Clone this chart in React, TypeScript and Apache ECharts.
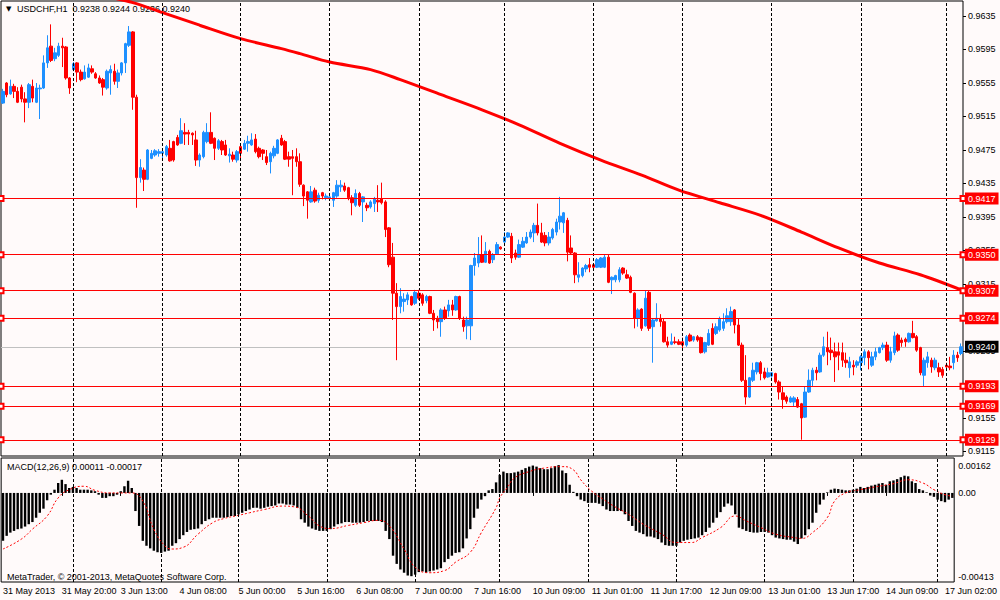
import React, { useEffect, useRef } from 'react';
import * as echarts from 'echarts';

const tickLabels = ['31 May 2013', '31 May 20:00', '3 Jun 13:00', '4 Jun 08:00', '5 Jun 00:00', '5 Jun 16:00', '6 Jun 08:00', '7 Jun 00:00', '7 Jun 16:00', '10 Jun 09:00', '11 Jun 01:00', '11 Jun 17:00', '12 Jun 09:00', '13 Jun 01:00', '13 Jun 17:00', '14 Jun 09:00', '17 Jun 02:00'];
const daySeparators = [19, 43, 64, 88, 112, 135, 159, 183, 207, 231, 254];
const priceTicks = [0.9635, 0.9595, 0.9555, 0.9515, 0.9475, 0.9435, 0.9395, 0.9355, 0.9315, 0.9275, 0.9235, 0.9195, 0.9155, 0.9115];
const macdTicks = [0.00162, 0, -0.00413];
const levels = [0.9417, 0.935, 0.9307, 0.9274, 0.9193, 0.9169, 0.9129];
const bid = 0.924;

// [open, close, low, high]
const candles: number[][] = [
[0.9531,0.9545,0.9530,0.9548],[0.9555,0.9541,0.9538,0.9556],[0.9542,0.9551,0.9541,0.9559],[0.9551,0.9545,0.9537,0.9554],[0.9545,0.9532,0.9531,0.9550],
[0.9550,0.9536,0.9532,0.9553],[0.9536,0.9532,0.9508,0.9544],[0.9532,0.9553,0.9525,0.9555],[0.9551,0.9537,0.9532,0.9559],[0.9532,0.9549,0.9531,0.9555],
[0.9548,0.9549,0.9512,0.9553],[0.9549,0.9579,0.9548,0.9588],[0.9579,0.9597,0.9573,0.9612],[0.9599,0.9582,0.9580,0.9625],[0.9584,0.9591,0.9581,0.9597],
[0.9588,0.9599,0.9586,0.9603],[0.9599,0.9597,0.9574,0.9609],[0.9598,0.9561,0.9559,0.9599],[0.9561,0.9549,0.9542,0.9562],[0.9571,0.9578,0.9569,0.9580],
[0.9579,0.9568,0.9556,0.9580],[0.9568,0.9559,0.9557,0.9571],[0.9560,0.9568,0.9559,0.9576],[0.9562,0.9573,0.9561,0.9578],[0.9572,0.9568,0.9566,0.9576],
[0.9566,0.9561,0.9560,0.9568],[0.9561,0.9555,0.9554,0.9564],[0.9559,0.9550,0.9540,0.9561],[0.9549,0.9569,0.9547,0.9571],[0.9567,0.9571,0.9541,0.9576],
[0.9569,0.9557,0.9553,0.9578],[0.9557,0.9567,0.9549,0.9571],[0.9567,0.9579,0.9564,0.9580],[0.9579,0.9602,0.9567,0.9603],[0.9600,0.9616,0.9598,0.9623],
[0.9616,0.9538,0.9523,0.9617],[0.9538,0.9442,0.9406,0.9541],[0.9442,0.9454,0.9436,0.9464],[0.9451,0.9440,0.9426,0.9454],[0.9440,0.9475,0.9439,0.9476],
[0.9465,0.9471,0.9464,0.9475],[0.9469,0.9474,0.9467,0.9476],[0.9471,0.9473,0.9467,0.9476],[0.9471,0.9473,0.9465,0.9477],[0.9469,0.9479,0.9467,0.9481],
[0.9477,0.9462,0.9461,0.9487],[0.9485,0.9463,0.9461,0.9486],[0.9490,0.9481,0.9480,0.9493],[0.9483,0.9498,0.9482,0.9513],[0.9496,0.9494,0.9481,0.9507],
[0.9496,0.9494,0.9481,0.9499],[0.9495,0.9493,0.9481,0.9496],[0.9487,0.9463,0.9456,0.9498],[0.9463,0.9469,0.9455,0.9471],[0.9467,0.9496,0.9465,0.9498],
[0.9485,0.9496,0.9483,0.9507],[0.9496,0.9483,0.9482,0.9520],[0.9489,0.9477,0.9463,0.9490],[0.9477,0.9486,0.9475,0.9488],[0.9485,0.9475,0.9469,0.9487],
[0.9481,0.9469,0.9468,0.9487],[0.9468,0.9470,0.9460,0.9477],[0.9469,0.9464,0.9461,0.9473],[0.9463,0.9473,0.9460,0.9475],[0.9479,0.9471,0.9465,0.9481],
[0.9476,0.9483,0.9475,0.9487],[0.9483,0.9485,0.9473,0.9492],[0.9481,0.9487,0.9480,0.9495],[0.9488,0.9473,0.9471,0.9494],[0.9477,0.9467,0.9465,0.9479],
[0.9475,0.9471,0.9463,0.9476],[0.9467,0.9460,0.9457,0.9475],[0.9461,0.9471,0.9447,0.9473],[0.9468,0.9477,0.9465,0.9480],[0.9471,0.9487,0.9470,0.9488],
[0.9489,0.9481,0.9480,0.9493],[0.9485,0.9464,0.9463,0.9487],[0.9467,0.9464,0.9455,0.9473],[0.9467,0.9465,0.9421,0.9475],[0.9467,0.9461,0.9455,0.9477],
[0.9461,0.9434,0.9431,0.9471],[0.9433,0.9420,0.9408,0.9434],[0.9425,0.9415,0.9393,0.9426],[0.9413,0.9425,0.9412,0.9432],[0.9427,0.9414,0.9412,0.9430],
[0.9415,0.9421,0.9412,0.9424],[0.9424,0.9420,0.9416,0.9425],[0.9418,0.9420,0.9415,0.9423],[0.9417,0.9419,0.9415,0.9421],[0.9415,0.9424,0.9407,0.9425],
[0.9420,0.9433,0.9418,0.9439],[0.9431,0.9433,0.9425,0.9439],[0.9432,0.9427,0.9425,0.9436],[0.9430,0.9418,0.9415,0.9431],[0.9418,0.9412,0.9397,0.9421],
[0.9409,0.9423,0.9407,0.9428],[0.9423,0.9409,0.9407,0.9425],[0.9413,0.9419,0.9389,0.9420],[0.9409,0.9406,0.9402,0.9412],[0.9407,0.9413,0.9405,0.9415],
[0.9411,0.9417,0.9401,0.9419],[0.9415,0.9413,0.9401,0.9433],[0.9417,0.9412,0.9410,0.9436],[0.9413,0.9380,0.9371,0.9415],[0.9382,0.9338,0.9335,0.9383],
[0.9347,0.9304,0.9272,0.9364],[0.9304,0.9288,0.9224,0.9316],[0.9288,0.9300,0.9280,0.9310],[0.9294,0.9297,0.9282,0.9304],[0.9296,0.9302,0.9290,0.9305],
[0.9300,0.9290,0.9289,0.9301],[0.9292,0.9305,0.9290,0.9308],[0.9304,0.9298,0.9296,0.9308],[0.9302,0.9292,0.9289,0.9304],[0.9295,0.9300,0.9292,0.9302],
[0.9300,0.9280,0.9279,0.9301],[0.9280,0.9272,0.9259,0.9284],[0.9274,0.9270,0.9262,0.9277],[0.9270,0.9284,0.9252,0.9286],[0.9284,0.9274,0.9272,0.9288],
[0.9283,0.9290,0.9276,0.9296],[0.9290,0.9284,0.9277,0.9296],[0.9284,0.9300,0.9283,0.9301],[0.9300,0.9274,0.9272,0.9301],[0.9272,0.9264,0.9258,0.9276],
[0.9265,0.9272,0.9249,0.9276],[0.9265,0.9337,0.9248,0.9338],[0.9337,0.9346,0.9325,0.9352],[0.9340,0.9350,0.9335,0.9371],[0.9350,0.9341,0.9340,0.9373],
[0.9341,0.9354,0.9340,0.9365],[0.9354,0.9340,0.9339,0.9356],[0.9344,0.9350,0.9340,0.9352],[0.9351,0.9362,0.9350,0.9365],[0.9359,0.9357,0.9356,0.9360],
[0.9365,0.9371,0.9364,0.9377],[0.9371,0.9376,0.9370,0.9377],[0.9372,0.9346,0.9340,0.9376],[0.9352,0.9347,0.9344,0.9356],[0.9347,0.9362,0.9346,0.9368],
[0.9359,0.9366,0.9358,0.9371],[0.9364,0.9371,0.9363,0.9377],[0.9371,0.9377,0.9369,0.9380],[0.9376,0.9385,0.9365,0.9388],[0.9385,0.9376,0.9373,0.9411],
[0.9376,0.9365,0.9364,0.9388],[0.9373,0.9364,0.9360,0.9377],[0.9364,0.9371,0.9361,0.9377],[0.9370,0.9380,0.9368,0.9382],[0.9377,0.9389,0.9373,0.9393],
[0.9389,0.9396,0.9380,0.9419],[0.9388,0.9400,0.9376,0.9401],[0.9391,0.9353,0.9342,0.9394],[0.9358,0.9352,0.9350,0.9373],[0.9352,0.9326,0.9316,0.9353],
[0.9323,0.9326,0.9317,0.9341],[0.9325,0.9334,0.9323,0.9335],[0.9333,0.9337,0.9329,0.9339],[0.9338,0.9335,0.9329,0.9346],[0.9338,0.9335,0.9332,0.9340],
[0.9335,0.9344,0.9334,0.9346],[0.9335,0.9346,0.9334,0.9347],[0.9335,0.9347,0.9334,0.9350],[0.9347,0.9317,0.9316,0.9350],[0.9320,0.9323,0.9303,0.9324],
[0.9320,0.9325,0.9317,0.9326],[0.9320,0.9332,0.9317,0.9335],[0.9334,0.9328,0.9326,0.9335],[0.9326,0.9322,0.9321,0.9332],[0.9323,0.9305,0.9304,0.9325],
[0.9304,0.9274,0.9262,0.9305],[0.9274,0.9284,0.9264,0.9286],[0.9285,0.9262,0.9259,0.9286],[0.9265,0.9298,0.9264,0.9307],[0.9305,0.9262,0.9259,0.9307],
[0.9264,0.9272,0.9221,0.9274],[0.9271,0.9274,0.9270,0.9292],[0.9274,0.9270,0.9264,0.9279],[0.9270,0.9246,0.9245,0.9274],[0.9246,0.9242,0.9239,0.9252],
[0.9243,0.9246,0.9242,0.9256],[0.9246,0.9245,0.9243,0.9252],[0.9246,0.9243,0.9242,0.9249],[0.9246,0.9242,0.9237,0.9251],[0.9242,0.9252,0.9240,0.9254],
[0.9254,0.9247,0.9246,0.9256],[0.9248,0.9252,0.9246,0.9253],[0.9252,0.9248,0.9246,0.9254],[0.9251,0.9233,0.9232,0.9252],[0.9234,0.9245,0.9232,0.9246],
[0.9242,0.9256,0.9241,0.9261],[0.9262,0.9243,0.9242,0.9268],[0.9256,0.9264,0.9254,0.9268],[0.9260,0.9273,0.9258,0.9276],[0.9262,0.9270,0.9259,0.9280],
[0.9270,0.9277,0.9268,0.9286],[0.9270,0.9282,0.9265,0.9288],[0.9284,0.9266,0.9256,0.9285],[0.9266,0.9242,0.9241,0.9274],[0.9242,0.9200,0.9198,0.9245],
[0.9200,0.9180,0.9171,0.9230],[0.9180,0.9203,0.9179,0.9204],[0.9200,0.9212,0.9198,0.9221],[0.9210,0.9221,0.9207,0.9222],[0.9221,0.9208,0.9200,0.9223],
[0.9210,0.9203,0.9201,0.9215],[0.9204,0.9209,0.9203,0.9215],[0.9205,0.9209,0.9203,0.9210],[0.9208,0.9198,0.9196,0.9209],[0.9198,0.9186,0.9177,0.9200],
[0.9185,0.9177,0.9166,0.9192],[0.9180,0.9175,0.9172,0.9182],[0.9174,0.9179,0.9173,0.9181],[0.9174,0.9179,0.9169,0.9181],[0.9177,0.9168,0.9167,0.9180],
[0.9172,0.9155,0.9129,0.9173],[0.9156,0.9186,0.9155,0.9192],[0.9186,0.9200,0.9185,0.9213],[0.9200,0.9212,0.9192,0.9215],[0.9212,0.9209,0.9200,0.9216],
[0.9210,0.9230,0.9209,0.9233],[0.9230,0.9240,0.9228,0.9252],[0.9239,0.9234,0.9218,0.9258],[0.9236,0.9233,0.9224,0.9251],[0.9234,0.9228,0.9198,0.9245],
[0.9234,0.9230,0.9212,0.9245],[0.9233,0.9224,0.9216,0.9245],[0.9224,0.9221,0.9215,0.9233],[0.9215,0.9222,0.9203,0.9228],[0.9218,0.9216,0.9206,0.9224],
[0.9218,0.9222,0.9215,0.9224],[0.9221,0.9228,0.9212,0.9230],[0.9227,0.9234,0.9218,0.9237],[0.9234,0.9227,0.9213,0.9236],[0.9218,0.9228,0.9216,0.9234],
[0.9228,0.9234,0.9224,0.9239],[0.9233,0.9239,0.9232,0.9240],[0.9239,0.9242,0.9236,0.9245],[0.9242,0.9224,0.9222,0.9246],[0.9224,0.9234,0.9221,0.9240],
[0.9233,0.9253,0.9230,0.9258],[0.9254,0.9236,0.9234,0.9256],[0.9248,0.9245,0.9240,0.9251],[0.9249,0.9246,0.9240,0.9251],[0.9246,0.9256,0.9245,0.9257],
[0.9256,0.9251,0.9250,0.9271],[0.9252,0.9236,0.9234,0.9254],[0.9239,0.9209,0.9206,0.9240],[0.9206,0.9224,0.9192,0.9227],[0.9221,0.9228,0.9215,0.9234],
[0.9224,0.9216,0.9209,0.9227],[0.9215,0.9224,0.9212,0.9227],[0.9215,0.9210,0.9204,0.9221],[0.9213,0.9206,0.9203,0.9216],[0.9218,0.9216,0.9212,0.9221],
[0.9217,0.9215,0.9212,0.9228],[0.9221,0.9230,0.9213,0.9236],[0.9230,0.9227,0.9222,0.9234],[0.9232,0.9240,0.9230,0.9244]
];

// moving average line: [bar index, price]
const maPoints: number[][] = [
[26,0.9660],[35,0.9651],[43,0.9639],[53,0.9624],[64,0.9608],[75,0.9596],[80,0.9590],[88,0.9580],[99,0.9571],[107,0.9559],
[118,0.9541],[129,0.9523],[139,0.9505],[150,0.9483],[161,0.9463],[172,0.9445],[182,0.9427],[193,0.9412],[204,0.9397],[215,0.9377],
[225,0.9358],[236,0.9340],[247,0.9326],[258,0.9308]
];

const macdMain: number[] = [
-0.00222,-0.00199,-0.00184,-0.00176,-0.00168,-0.00165,-0.00156,-0.00145,-0.00135,-0.00115,
-0.00092,-0.00073,-0.00034,-0.00008,0.00015,0.00046,0.00061,0.00041,0.00023,0.00028,
0.00023,0.00015,0.00015,0.00015,0.00012,0.00008,-0.00008,-0.00023,-0.00023,-0.00015,
-0.00015,-0.00008,0.00008,0.00031,0.00057,0.00023,-0.00084,-0.00153,-0.00222,-0.00245,
-0.00257,-0.00268,-0.00275,-0.00278,-0.00272,-0.00268,-0.00245,-0.00233,-0.00214,-0.00196,
-0.00181,-0.00171,-0.00168,-0.00165,-0.00145,-0.00130,-0.00122,-0.00115,-0.00115,-0.00115,
-0.00115,-0.00112,-0.00107,-0.00107,-0.00099,-0.00092,-0.00084,-0.00077,-0.00069,-0.00069,
-0.00073,-0.00069,-0.00064,-0.00061,-0.00058,-0.00049,-0.00049,-0.00054,-0.00054,-0.00058,
-0.00069,-0.00122,-0.00138,-0.00156,-0.00165,-0.00171,-0.00176,-0.00176,-0.00176,-0.00168,
-0.00156,-0.00145,-0.00141,-0.00135,-0.00135,-0.00138,-0.00138,-0.00138,-0.00135,-0.00130,
-0.00130,-0.00130,-0.00130,-0.00135,-0.00176,-0.00214,-0.00291,-0.00329,-0.00355,-0.00370,
-0.00383,-0.00386,-0.00379,-0.00367,-0.00364,-0.00370,-0.00364,-0.00360,-0.00355,-0.00349,
-0.00321,-0.00306,-0.00291,-0.00278,-0.00275,-0.00257,-0.00211,-0.00168,-0.00115,-0.00073,
-0.00031,-0.00015,0.00012,0.00018,0.00049,
0.00084,0.00099,0.00092,0.00092,0.00095,0.00099,0.00107,0.00115,0.00122,0.00127,
0.00122,0.00115,0.00110,0.00110,0.00115,0.00125,0.00129,0.00104,0.00092,0.00038,
0.00005,-0.00015,-0.00031,-0.00038,-0.00046,-0.00046,-0.00046,-0.00050,-0.00061,-0.00077,
-0.00084,-0.00084,-0.00084,-0.00084,-0.00099,-0.00130,-0.00153,-0.00176,-0.00184,-0.00191,
-0.00202,-0.00202,-0.00207,-0.00214,-0.00230,-0.00242,-0.00245,-0.00245,-0.00245,-0.00230,
-0.00222,-0.00217,-0.00214,-0.00211,-0.00207,-0.00196,-0.00181,-0.00161,-0.00138,-0.00115,
-0.00089,-0.00064,-0.00049,-0.00058,-0.00099,-0.00161,-0.00168,-0.00176,-0.00181,-0.00184,
-0.00184,-0.00181,-0.00181,-0.00184,-0.00196,-0.00207,-0.00211,-0.00214,-0.00217,-0.00217,
-0.00226,-0.00237,-0.00211,-0.00196,-0.00168,-0.00138,-0.00092,-0.00054,-0.00031,0.00003,
0.00015,0.00020,0.00018,0.00015,0.00012,0.00012,0.00015,0.00020,0.00028,0.00023,
0.00028,0.00034,0.00038,0.00043,0.00046,0.00038,0.00054,0.00058,0.00064,0.00073,
0.00080,0.00077,0.00054,0.00046,0.00018,0.00012,0.00003,-0.00012,-0.00018,-0.00031,
-0.00038,-0.00043,-0.00031,-0.00023
];

// signal line: [bar index, value]
const macdSignal: number[][] = [
[0,-0.00260],[5,-0.00214],[8,-0.00168],[12,-0.00107],[15,-0.00023],[18,0.00015],[22,0.00031],[25,0.00012],[29,0],[32,0],
[35,0],[38,-0.00038],[41,-0.00168],[44,-0.00245],[46,-0.00260],[49,-0.00252],[53,-0.00191],[57,-0.00138],[60,-0.00119],[64,-0.00104],
[67,-0.00092],[71,-0.00077],[76,-0.00061],[79,-0.00064],[83,-0.00107],[86,-0.00153],[89,-0.00165],[94,-0.00150],[98,-0.00138],[102,-0.00127],
[105,-0.00153],[109,-0.00260],[112,-0.00344],[116,-0.00370],[120,-0.00360],[123,-0.00321],[127,-0.00275],[130,-0.00184],[134,-0.00069],[135,-0.00023],
[137,0.00023],[139,0.00069],[143,0.00099],[147,0.00115],[152,0.00122],[155,0.00107],[157,0.00061],[160,0.00008],[163,-0.00028],[166,-0.00061],
[170,-0.00099],[174,-0.00145],[179,-0.00191],[183,-0.00230],[187,-0.00230],[190,-0.00207],[195,-0.00161],[199,-0.00107],[202,-0.00130],[206,-0.00161],
[210,-0.00191],[215,-0.00207],[217,-0.00211],[220,-0.00184],[224,-0.00115],[226,-0.00038],[229,0],[233,0.00015],[237,0.00028],[242,0.00043],
[246,0.00061],[250,0.00046],[253,0.00015],[256,-0.00008],[258,-0.00015]
];

const FONT = '"Liberation Sans", Arial, "DejaVu Sans", sans-serif';

export default function App() {
  const ref = useRef<HTMLDivElement>(null);
  useEffect(() => {
    document.body.style.margin = '0';
    const chart = echarts.init(ref.current as HTMLDivElement, null, { renderer: 'svg' });
    const cats = candles.map((_, i) => String(i));
    const sepLines = daySeparators.map((i) => ({ xAxis: i }));
    const sepMarkLine = {
      silent: true,
      symbol: 'none',
      animation: false,
      label: { show: false },
      lineStyle: { color: '#000', width: 1, type: [3, 2] },
      data: sepLines,
    };
    chart.setOption({
      animation: false,
      backgroundColor: '#FFFAFA',
      textStyle: { fontFamily: FONT },
      grid: [
        { left: 1, top: 1, width: 962, height: 455, show: true, borderColor: '#000', borderWidth: 1, backgroundColor: 'transparent' },
        { left: 1, top: 458, width: 962, height: 124, show: true, borderColor: '#000', borderWidth: 1, backgroundColor: 'transparent' },
      ],
      xAxis: [
        {
          type: 'category', gridIndex: 0, data: cats, boundaryGap: true,
          axisLine: { show: false }, axisTick: { show: false }, axisLabel: { show: false }, splitLine: { show: false },
        },
        {
          type: 'category', gridIndex: 1, data: cats, boundaryGap: true,
          axisLine: { show: false },
          axisTick: { show: true, interval: 15, alignWithLabel: true, length: 3, lineStyle: { color: '#000' } },
          axisLabel: {
            interval: 15, align: 'left', fontSize: 9, color: '#000', margin: 4, fontFamily: FONT,
            formatter: (_v: string, idx: number) => (idx % 16 === 0 ? tickLabels[idx / 16] ?? '' : ''),
          },
          splitLine: { show: false },
        },
      ],
      yAxis: [
        {
          type: 'value', gridIndex: 0, position: 'right', min: 0.91096, max: 0.96529,
          splitLine: { show: false }, axisLine: { show: false },
          axisTick: { show: true, customValues: priceTicks, length: 3, lineStyle: { color: '#000' } },
          axisLabel: { customValues: priceTicks, formatter: (v: number) => v.toFixed(4), fontSize: 9, color: '#000', margin: 5, fontFamily: FONT },
        },
        {
          type: 'value', gridIndex: 1, position: 'right', min: -0.00413, max: 0.00162,
          splitLine: { show: false }, axisLine: { show: false },
          axisTick: { show: false },
          axisLabel: {
            customValues: macdTicks, margin: 4, fontSize: 9, color: '#000', fontFamily: FONT,
            formatter: (v: number) => (v > 0.001 ? '{t|0.00162}' : v < -0.001 ? '{b|-0.00413}' : '{m|0.00}'),
            rich: {
              t: { fontSize: 9, color: '#000', fontFamily: FONT, padding: [15, 0, 0, 0] },
              b: { fontSize: 9, color: '#000', fontFamily: FONT, padding: [0, 0, 10, 0] },
              m: { fontSize: 9, color: '#000', fontFamily: FONT },
            },
          },
        },
      ],
      series: [
        {
          name: 'sep', type: 'line', xAxisIndex: 0, yAxisIndex: 0, z: 1,
          data: candles.map(() => '-'), showSymbol: false, silent: true,
          markLine: sepMarkLine,
        },
        {
          name: 'USDCHF', type: 'candlestick', xAxisIndex: 0, yAxisIndex: 0, z: 3,
          data: candles, barWidth: 3,
          itemStyle: { color: '#1E90FF', color0: '#FF0000', borderColor: '#1E90FF', borderColor0: '#FF0000', borderWidth: 1 },
          markLine: {
            silent: true, animation: false, z: 5, precision: 4,
            symbol: ['emptyRect', 'emptyRect'], symbolSize: 5,
            lineStyle: { color: '#FF0000', width: 1, type: 'solid' },
            label: {
              position: 'end', distance: 2, formatter: (p: any) => Number(p.value).toFixed(4),
              backgroundColor: '#FF0000', color: '#fff', padding: [2, 3, 1, 3], fontSize: 9, fontFamily: FONT,
            },
            data: levels.map((v) => ({ yAxis: v })),
          },
        },
        {
          name: 'MA', type: 'line', xAxisIndex: 0, yAxisIndex: 0, z: 4,
          data: maPoints, showSymbol: false, smooth: 0.3, clip: true,
          lineStyle: { color: '#FF0000', width: 3 },
          markLine: {
            silent: true, animation: false, symbol: 'none', z: 2, precision: 4,
            lineStyle: { color: '#C0C0C0', width: 1, type: 'solid' },
            label: {
              position: 'end', distance: 2, formatter: (p: any) => Number(p.value).toFixed(4),
              backgroundColor: '#000', color: '#fff', padding: [2, 3, 1, 3], fontSize: 9, fontFamily: FONT,
            },
            data: [{ yAxis: bid }],
          },
        },
        {
          name: 'MACD', type: 'bar', xAxisIndex: 1, yAxisIndex: 1, z: 2,
          data: macdMain, barWidth: 2.4, itemStyle: { color: '#000' },
          markLine: sepMarkLine,
        },
        {
          name: 'Signal', type: 'line', xAxisIndex: 1, yAxisIndex: 1, z: 3,
          data: macdSignal, showSymbol: false, smooth: true,
          lineStyle: { color: '#FF0000', width: 1, type: [2, 2] },
        },
      ],
      graphic: [
        { type: 'text', left: 6, top: 5, style: { text: '▼', fontSize: 7, fill: '#000', fontFamily: '"DejaVu Sans", sans-serif' } },
        { type: 'text', left: 17, top: 4, style: { text: 'USDCHF,H1  0.9238 0.9244 0.9236 0.9240', fontSize: 9, fill: '#000', fontFamily: FONT } },
        { type: 'text', left: 7, top: 462, style: { text: 'MACD(12,26,9) 0.00011 -0.00017', fontSize: 9, fill: '#000', fontFamily: FONT } },
        { type: 'text', left: 7, top: 572, style: { text: 'MetaTrader, © 2001-2013, MetaQuotes Software Corp.', fontSize: 9, fill: '#000', fontFamily: FONT } },
      ],
    });
    return () => chart.dispose();
  }, []);
  return <div ref={ref} style={{ position: 'absolute', left: 0, top: 0, width: 1000, height: 600 }} />;
}
